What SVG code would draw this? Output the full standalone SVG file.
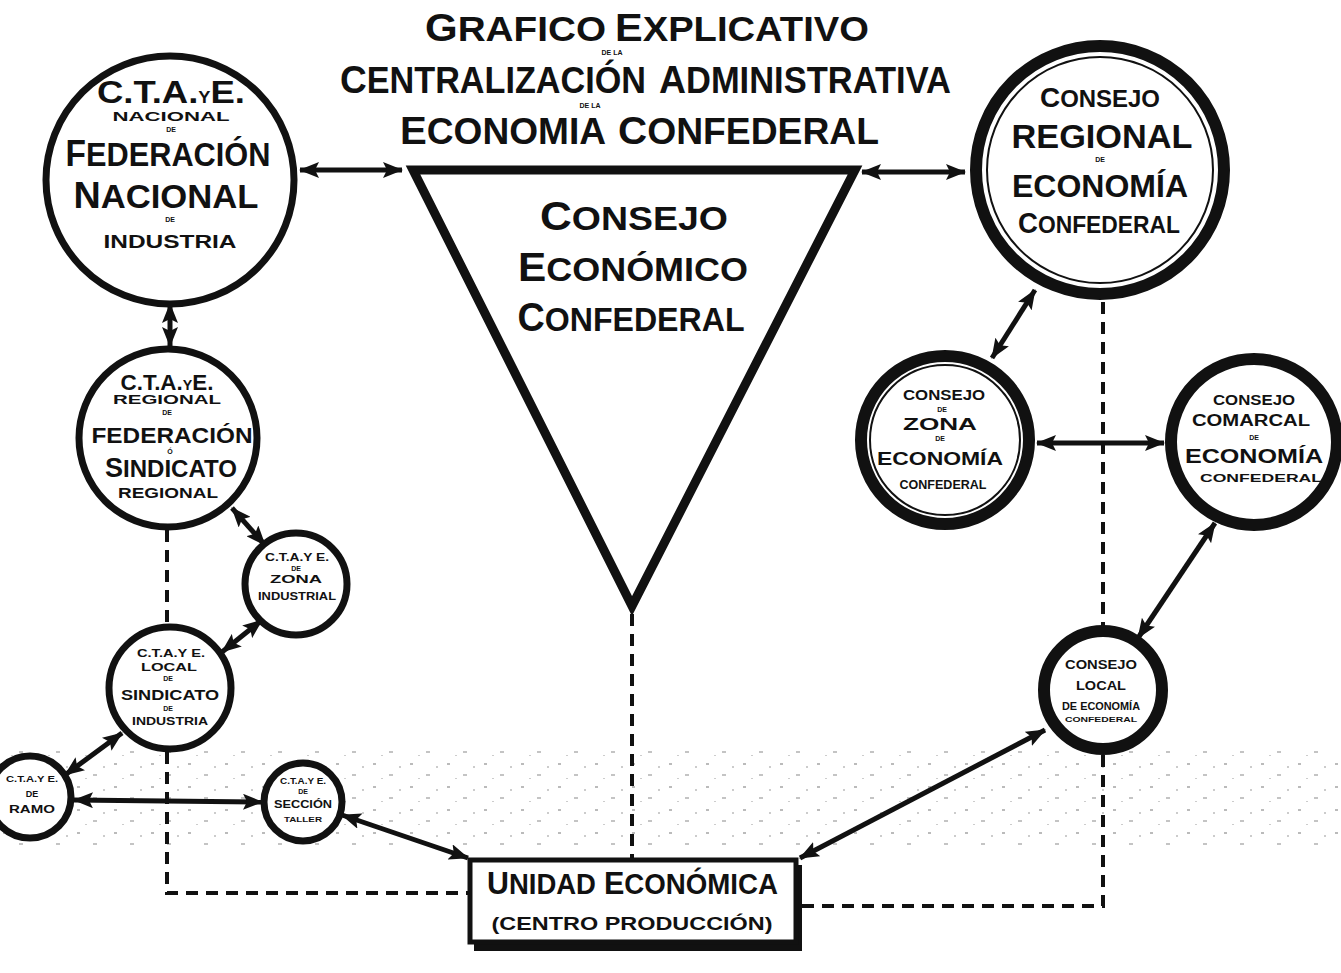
<svg xmlns="http://www.w3.org/2000/svg" width="1341" height="973" viewBox="0 0 1341 973">
<defs>
<style>
.t{font-family:"Liberation Sans","DejaVu Sans",sans-serif;font-weight:bold;fill:#111;text-anchor:middle}
.s{text-anchor:start}
.c{fill:#fff;stroke:#111;stroke-width:7}
.ck{fill:#fff;stroke:#111;stroke-width:12}
.thin{fill:none;stroke:#111;stroke-width:2}
.a{stroke:#111;stroke-width:5;fill:none;marker-start:url(#ah);marker-end:url(#ah)}
.d{stroke:#111;stroke-width:4;fill:none;stroke-dasharray:12 8}
</style>
<marker id="ah" viewBox="0 0 20 16" refX="19" refY="8" markerWidth="20" markerHeight="16" markerUnits="userSpaceOnUse" orient="auto-start-reverse">
<path d="M0,0 L20,8 L0,16 L4,8 Z" fill="#111"/>
</marker>
<pattern id="spk" width="37" height="23" patternUnits="userSpaceOnUse">
<rect x="3" y="4" width="3" height="2" fill="#777"/>
<rect x="19" y="15" width="4" height="2" fill="#888"/>
<rect x="29" y="7" width="2" height="2" fill="#999"/>
<rect x="11" y="19" width="2" height="1" fill="#999"/>
</pattern>
</defs>
<rect width="1341" height="973" fill="#fff"/>
<rect x="0" y="745" width="1341" height="100" fill="url(#spk)" opacity="0.5"/>

<g id="title">
<text class="t s" x="425" y="41" font-size="35" textLength="181" lengthAdjust="spacingAndGlyphs"><tspan font-size="38">G</tspan>RAFICO</text>
<text class="t s" x="615" y="41" font-size="35" textLength="254" lengthAdjust="spacingAndGlyphs"><tspan font-size="38">E</tspan>XPLICATIVO</text>
<text class="t" x="612" y="55" font-size="7">DE LA</text>
<text class="t s" x="340" y="93" font-size="36" textLength="306" lengthAdjust="spacingAndGlyphs"><tspan font-size="39">C</tspan>ENTRALIZACIÓN</text>
<text class="t s" x="659" y="93" font-size="36" textLength="292" lengthAdjust="spacingAndGlyphs"><tspan font-size="39">A</tspan>DMINISTRATIVA</text>
<text class="t" x="590" y="108" font-size="7">DE LA</text>
<text class="t s" x="400" y="144" font-size="36" textLength="206" lengthAdjust="spacingAndGlyphs"><tspan font-size="39">E</tspan>CONOMIA</text>
<text class="t s" x="618" y="144" font-size="36" textLength="261" lengthAdjust="spacingAndGlyphs"><tspan font-size="39">C</tspan>ONFEDERAL</text>
</g>

<g id="connectors">
<line class="a" x1="300" y1="170" x2="402" y2="170"/>
<line class="a" x1="862" y1="172" x2="965" y2="172"/>
<line class="a" x1="170" y1="304" x2="170" y2="346"/>
<line class="a" x1="232" y1="508" x2="265" y2="545"/>
<line class="a" x1="262" y1="620" x2="222" y2="652"/>
<line class="a" x1="122" y1="733" x2="65" y2="775"/>
<line class="a" x1="74" y1="800" x2="262" y2="802"/>
<line class="a" x1="342" y1="815" x2="468" y2="858"/>
<line class="a" x1="1035" y1="290" x2="992" y2="358"/>
<line class="a" x1="1037" y1="443" x2="1164" y2="443"/>
<line class="a" x1="1215" y1="523" x2="1138" y2="638"/>
<line class="a" x1="1045" y1="730" x2="800" y2="858"/>
<path class="d" d="M167,530 V626 M167,752 V893 H470"/>
<path class="d" d="M632,614 V858"/>
<path class="d" d="M1103,302 V628 M1103,755 V906 H800"/>
</g>

<g id="consejo-economico">
<polygon points="413,170 855,170 632,606" fill="#fff" stroke="#111" stroke-width="9" stroke-linejoin="miter"/>
<text class="t" x="634" y="230" font-size="34" textLength="188" lengthAdjust="spacingAndGlyphs"><tspan font-size="40">C</tspan>ONSEJO</text>
<text class="t" x="633" y="281" font-size="34" textLength="230" lengthAdjust="spacingAndGlyphs"><tspan font-size="40">E</tspan>CONÓMICO</text>
<text class="t" x="631" y="331" font-size="34" textLength="227" lengthAdjust="spacingAndGlyphs"><tspan font-size="40">C</tspan>ONFEDERAL</text>
</g>

<g id="cta-nacional">
<circle class="c" cx="170" cy="180" r="124"/>
<text class="t" x="171" y="103" font-size="32" textLength="148" lengthAdjust="spacingAndGlyphs">C.T.A.<tspan font-size="16">Y</tspan>E.</text>
<text class="t" x="171" y="121" font-size="13" textLength="117" lengthAdjust="spacingAndGlyphs">NACIONAL</text>
<text class="t" x="171" y="132" font-size="7">DE</text>
<text class="t" x="168" y="166" font-size="34" textLength="205" lengthAdjust="spacingAndGlyphs"><tspan font-size="37">F</tspan>EDERACIÓN</text>
<text class="t" x="166" y="208" font-size="34" textLength="185" lengthAdjust="spacingAndGlyphs"><tspan font-size="37">N</tspan>ACIONAL</text>
<text class="t" x="170" y="222" font-size="7">DE</text>
<text class="t" x="170" y="248" font-size="19" textLength="133" lengthAdjust="spacingAndGlyphs">INDUSTRIA</text>
</g>

<g id="cta-regional">
<circle class="c" cx="168" cy="438" r="89"/>
<text class="t" x="167" y="390" font-size="22" textLength="93" lengthAdjust="spacingAndGlyphs">C.T.A.<tspan font-size="14">Y</tspan>E.</text>
<text class="t" x="167" y="404" font-size="12" textLength="108" lengthAdjust="spacingAndGlyphs">REGIONAL</text>
<text class="t" x="167" y="415" font-size="7">DE</text>
<text class="t" x="172" y="443" font-size="22" textLength="161" lengthAdjust="spacingAndGlyphs">FEDERACIÓN</text>
<text class="t" x="170" y="454" font-size="7">Ó</text>
<text class="t" x="171" y="477" font-size="24" textLength="132" lengthAdjust="spacingAndGlyphs"><tspan font-size="27">S</tspan>INDICATO</text>
<text class="t" x="168" y="498" font-size="14" textLength="100" lengthAdjust="spacingAndGlyphs">REGIONAL</text>
</g>

<g id="cta-zona-industrial">
<circle class="c" cx="296" cy="584" r="51" stroke-width="6"/>
<text class="t" x="297" y="561" font-size="10" textLength="64" lengthAdjust="spacingAndGlyphs">C.T.A.Y E.</text>
<text class="t" x="296" y="571" font-size="7">DE</text>
<text class="t" x="296" y="583" font-size="11" textLength="52" lengthAdjust="spacingAndGlyphs">ZONA</text>
<text class="t" x="297" y="600" font-size="11" textLength="78" lengthAdjust="spacingAndGlyphs">INDUSTRIAL</text>
</g>

<g id="cta-local">
<circle class="c" cx="170" cy="688" r="61" stroke-width="6"/>
<text class="t" x="171" y="657" font-size="10" textLength="68" lengthAdjust="spacingAndGlyphs">C.T.A.Y E.</text>
<text class="t" x="169" y="671" font-size="10" textLength="56" lengthAdjust="spacingAndGlyphs">LOCAL</text>
<text class="t" x="168" y="681" font-size="7">DE</text>
<text class="t" x="170" y="700" font-size="14" textLength="98" lengthAdjust="spacingAndGlyphs">SINDICATO</text>
<text class="t" x="168" y="711" font-size="7">DE</text>
<text class="t" x="170" y="725" font-size="11" textLength="76" lengthAdjust="spacingAndGlyphs">INDUSTRIA</text>
</g>

<g id="cta-ramo">
<circle class="c" cx="30" cy="797" r="41" stroke-width="6"/>
<text class="t" x="32" y="782" font-size="9" textLength="52" lengthAdjust="spacingAndGlyphs">C.T.A.Y E.</text>
<text class="t" x="32" y="797" font-size="9">DE</text>
<text class="t" x="32" y="813" font-size="10" textLength="46" lengthAdjust="spacingAndGlyphs">RAMO</text>
</g>

<g id="cta-seccion">
<circle class="c" cx="303" cy="802" r="39" stroke-width="6"/>
<text class="t" x="303" y="784" font-size="9" textLength="46" lengthAdjust="spacingAndGlyphs">C.T.A.Y E.</text>
<text class="t" x="303" y="794" font-size="7">DE</text>
<text class="t" x="303" y="808" font-size="10" textLength="58" lengthAdjust="spacingAndGlyphs">SECCIÓN</text>
<text class="t" x="303" y="822" font-size="8" textLength="38" lengthAdjust="spacingAndGlyphs">TALLER</text>
</g>

<g id="consejo-regional">
<circle class="ck" cx="1100" cy="170" r="124" stroke-width="13"/>
<circle class="thin" cx="1100" cy="170" r="113"/>
<text class="t" x="1100" y="107" font-size="24" textLength="120" lengthAdjust="spacingAndGlyphs"><tspan font-size="28">C</tspan>ONSEJO</text>
<text class="t" x="1102" y="148" font-size="33" textLength="181" lengthAdjust="spacingAndGlyphs">REGIONAL</text>
<text class="t" x="1100" y="162" font-size="7">DE</text>
<text class="t" x="1100" y="197" font-size="31" textLength="176" lengthAdjust="spacingAndGlyphs">ECONOMÍA</text>
<text class="t" x="1099" y="233" font-size="24" textLength="162" lengthAdjust="spacingAndGlyphs"><tspan font-size="29">C</tspan>ONFEDERAL</text>
</g>

<g id="consejo-zona">
<circle class="ck" cx="945" cy="440" r="84" stroke-width="9"/>
<circle class="thin" cx="945" cy="440" r="75"/>
<text class="t" x="944" y="400" font-size="14" textLength="82" lengthAdjust="spacingAndGlyphs">CONSEJO</text>
<text class="t" x="942" y="412" font-size="7">DE</text>
<text class="t" x="940" y="430" font-size="17" textLength="74" lengthAdjust="spacingAndGlyphs">ZONA</text>
<text class="t" x="940" y="441" font-size="7">DE</text>
<text class="t" x="940" y="465" font-size="19" textLength="126" lengthAdjust="spacingAndGlyphs">ECONOMÍA</text>
<text class="t" x="943" y="489" font-size="12" textLength="87" lengthAdjust="spacingAndGlyphs">CONFEDERAL</text>
</g>

<g id="consejo-comarcal">
<circle class="ck" cx="1254" cy="442" r="83"/>
<text class="t" x="1254" y="405" font-size="14" textLength="82" lengthAdjust="spacingAndGlyphs">CONSEJO</text>
<text class="t" x="1251" y="426" font-size="16" textLength="118" lengthAdjust="spacingAndGlyphs">COMARCAL</text>
<text class="t" x="1254" y="440" font-size="7">DE</text>
<text class="t" x="1254" y="463" font-size="20" textLength="138" lengthAdjust="spacingAndGlyphs">ECONOMÍA</text>
<text class="t" x="1261" y="482" font-size="10" textLength="122" lengthAdjust="spacingAndGlyphs">CONFEDERAL</text>
</g>

<g id="consejo-local">
<circle class="ck" cx="1103" cy="690" r="59" stroke-width="13"/>
<text class="t" x="1101" y="669" font-size="12" textLength="72" lengthAdjust="spacingAndGlyphs">CONSEJO</text>
<text class="t" x="1101" y="690" font-size="13" textLength="50" lengthAdjust="spacingAndGlyphs">LOCAL</text>
<text class="t" x="1101" y="710" font-size="11" textLength="78" lengthAdjust="spacingAndGlyphs">DE ECONOMÍA</text>
<text class="t" x="1101" y="722" font-size="7" textLength="72" lengthAdjust="spacingAndGlyphs">CONFEDERAL</text>
</g>

<g id="unidad-economica">
<rect x="474" y="865" width="328" height="86" fill="#111"/>
<rect x="470" y="860" width="326" height="82" fill="#fff" stroke="#111" stroke-width="5"/>
<text class="t s" x="487" y="894" font-size="29" textLength="109" lengthAdjust="spacingAndGlyphs"><tspan font-size="32">U</tspan>NIDAD</text>
<text class="t s" x="604" y="894" font-size="29" textLength="174" lengthAdjust="spacingAndGlyphs"><tspan font-size="32">E</tspan>CONÓMICA</text>
<text class="t" x="632" y="930" font-size="18" textLength="281" lengthAdjust="spacingAndGlyphs">(CENTRO PRODUCCIÓN)</text>
</g>
</svg>
